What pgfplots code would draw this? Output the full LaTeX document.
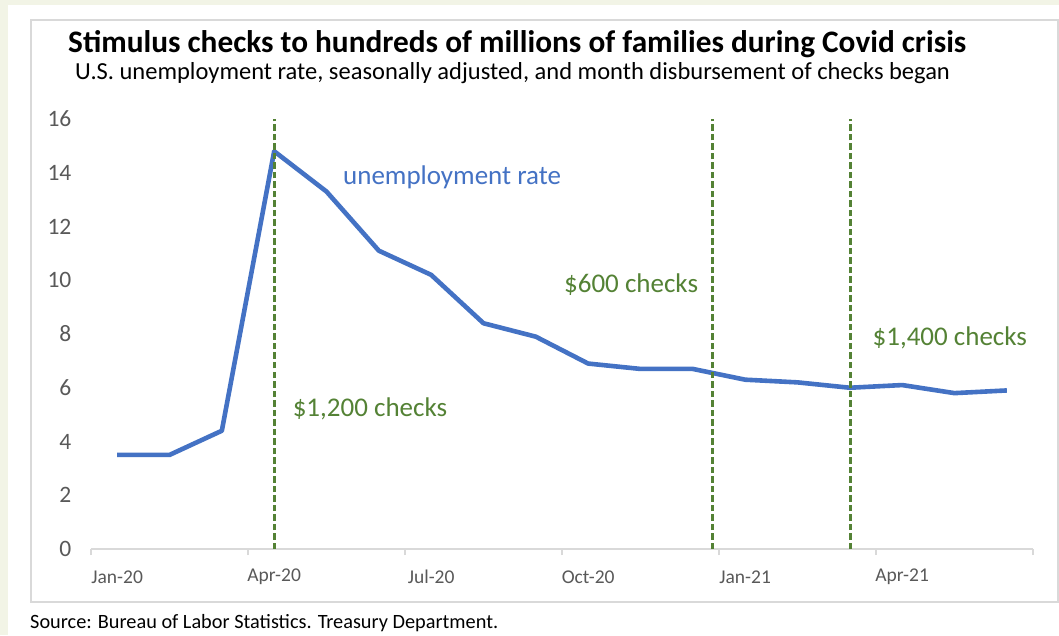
\documentclass[border=0pt]{standalone}
\usepackage{pgfplots}
\pgfplotsset{compat=1.18}
\usepackage{pgfplotstable}
\usepackage{fontspec}
\setmainfont{Carlito}
\definecolor{cream}{HTML}{F2F4E6}
\definecolor{panelgray}{HTML}{D9D9D9}
\definecolor{lineblue}{HTML}{4472C4}
\definecolor{checkgreen}{HTML}{548235}
\definecolor{ticktext}{HTML}{595959}

\pgfplotstableread{
x y
0 3.5
1 3.5
2 4.4
3 14.8
4 13.3
5 11.1
6 10.2
7 8.4
8 7.9
9 6.9
10 6.7
11 6.7
12 6.3
13 6.2
14 6.0
15 6.1
16 5.8
17 5.9
}\unemp

\begin{document}
\begin{tikzpicture}[x=1pt,y=1pt]
\fill[cream] (0,0) rectangle (1059,635);
\fill[white] (8,0) rectangle (1059,630);
\draw[panelgray, line width=1.2pt] (31,33) rectangle (1058,615);
\node[font=\fontsize{31.3}{37}\selectfont\bfseries, anchor=base west, inner sep=0pt] at (68,582) {Stimulus checks to hundreds of millions of families during Covid crisis};
\node[font=\fontsize{24.5}{29}\selectfont, anchor=base west, inner sep=0pt] at (75,555) {U.S. unemployment rate, seasonally adjusted, and month disbursement of checks began};
\node[font=\fontsize{20.3}{24}\selectfont, anchor=base west, inner sep=0pt] at (30,7) {Source: Bureau of Labor Statistics. Treasury Department.};
\begin{axis}[
  at={(91pt,86pt)}, anchor=south west, scale only axis,
  width=942pt, height=430pt,
  xmin=-0.5, xmax=17.5, ymin=0, ymax=16,
  axis x line=bottom, axis y line=left,
  x axis line style={draw=panelgray, line width=1.2pt, -},
  y axis line style={draw=none},
  ytick={0,2,...,16},
  ytick style={draw=none},
  xtick={0,3,6,9,12,15},
  xticklabels={Jan-20,Apr-20,Jul-20,Oct-20,Jan-21,Apr-21},
  xtick style={draw=none},
  extra x ticks={-0.5,2.5,5.5,8.5,11.5,14.5,17.5},
  extra x tick labels={},
  extra x tick style={tick align=outside, major tick length=6pt, xtick style={draw=panelgray, line width=1.2pt}},
  /pgf/number format/assume math mode=true,
  tick label style={text=ticktext},
  yticklabel style={font=\fontsize{23.5}{28}\selectfont, anchor=east, xshift=-14pt},
  xticklabel style={font=\fontsize{19.5}{23}\selectfont, anchor=center, yshift=-26pt},
  clip=false,
]
\addplot[lineblue, line width=4.6pt, line join=round] table[x=x,y=y]{\unemp};
\addplot[checkgreen, line width=3.2pt, dash pattern=on 6.5pt off 3pt] coordinates {(3,0) (3,16)};
\addplot[checkgreen, line width=3.2pt, dash pattern=on 6.5pt off 3pt] coordinates {(11.37,0) (11.37,16)};
\addplot[checkgreen, line width=3.2pt, dash pattern=on 6.5pt off 3pt] coordinates {(14.02,0) (14.02,16)};
\node[font=\fontsize{27}{32}\selectfont, text=lineblue] at (axis cs:6.40,13.84) {unemployment rate};
\node[font=\fontsize{27}{32}\selectfont, text=checkgreen] at (axis cs:4.83,5.21) {\$1,200 checks};
\node[font=\fontsize{27}{32}\selectfont, text=checkgreen] at (axis cs:9.82,9.82) {\$600 checks};
\node[font=\fontsize{27}{32}\selectfont, text=checkgreen] at (axis cs:15.91,7.85) {\$1,400 checks};
\end{axis}
\end{tikzpicture}
\end{document}
